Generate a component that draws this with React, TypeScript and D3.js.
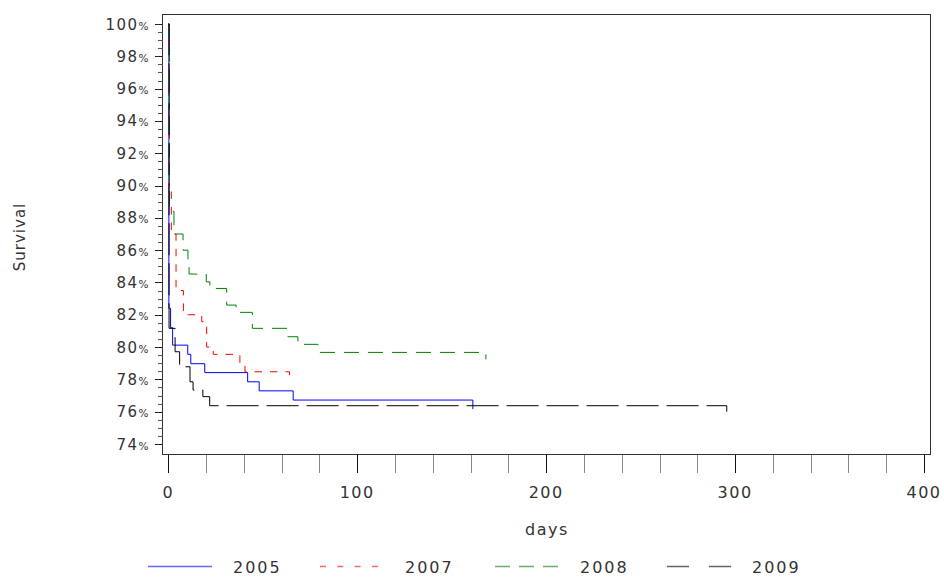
import React from "react";
import * as d3 from "d3";

// Kaplan-Meier style survival (days, percent surviving)
const days2005 = [0, 0.3, 1.2, 2.3, 10.3, 11.9, 19.3, 42, 48.1, 66.1, 161.2];
const surv2005 = [100, 82.4, 81.2, 80.12, 79.55, 78.97, 78.42, 77.85, 77.29, 76.72, 76.16];

const days2007 = [0, 0.6, 1.6, 4.1, 8.0, 17.7, 20.3, 23.8, 37.9, 40.6, 64.2];
const surv2007 = [100, 90.0, 87.0, 83.5, 82.0, 81.57, 80.0, 79.55, 78.99, 78.47, 78.15];

const days2008 = [0, 0.6, 3.0, 7.8, 10.4, 11.0, 20.1, 22.0, 30.9, 35.9, 44.5, 62.8, 68.6, 79.2, 168.1];
const surv2008 = [100, 88.4, 87.0, 86.0, 85.0, 84.52, 84.04, 83.63, 82.6, 82.15, 81.16, 80.64, 80.17, 79.67, 79.24];

const days2009 = [0, 0.4, 3.6, 6.0, 11.5, 13.1, 18.3, 21.9, 295.6];
const surv2009 = [100, 81.16, 79.71, 78.78, 77.85, 77.34, 76.93, 76.37, 76.0];

const years = ["2005", "2007", "2008", "2009"];
const xTickLabels = [0, 100, 200, 300, 400];
const yTickLabels = [74, 76, 78, 80, 82, 84, 86, 88, 90, 92, 94, 96, 98, 100];

const W = 944;
const H = 579;
const font = "DejaVu Sans";
const textColor = "#333";

const App = () => {
  const x = d3.scaleLinear().domain([0, 400]).range([168.3, 924]);
  const y = d3.scaleLinear().domain([74, 100]).range([444, 24]);

  const frame = { left: 162.5, top: 14.5, right: 930.5, bottom: 454.5 };

  const zip = (ds: number[], ss: number[]) => ds.map((d, i) => [d, ss[i]] as [number, number]);
  const series = [
    { name: years[0], pts: zip(days2005, surv2005), color: "#0000ff", dash: "none", legendDash: "none" },
    { name: years[1], pts: zip(days2007, surv2007), color: "#ff0000", dash: "7.5,8", legendDash: "6,11.3" },
    { name: years[2], pts: zip(days2008, surv2008), color: "#008000", dash: "15,9", legendDash: "15,9" },
    { name: years[3], pts: zip(days2009, surv2009), color: "#000000", dash: "32,8", legendDash: "22,20" },
  ];

  const line = d3
    .line<[number, number]>()
    .x((d) => x(d[0]))
    .y((d) => y(d[1]))
    .curve(d3.curveStepAfter);

  const xMinor = d3.range(0, 401, 20).filter((v) => v % 100 !== 0);
  const yMinor = d3.range(74, 100.01, 0.5).filter((v) => v % 2 !== 0);

  // legend layout
  const legendY = 566;
  const legendStarts = [148, 320, 495, 667];
  const legendLen = 64;

  return (
    <svg width={W} height={H} style={{ position: "absolute", left: 0, top: 0, background: "#fff" }}>
      {/* plot frame */}
      <rect
        x={frame.left}
        y={frame.top}
        width={frame.right - frame.left}
        height={frame.bottom - frame.top}
        fill="none"
        stroke="#333"
        strokeWidth={1}
      />

      {/* y axis */}
      {yTickLabels.map((v) => (
        <g key={"y" + v}>
          <line x1={155} x2={frame.left} y1={Math.round(y(v)) + 0.5} y2={Math.round(y(v)) + 0.5} stroke="#222" />
          <text x={150} y={y(v) + 5.5} textAnchor="end" fontFamily={font} fontSize={15} letterSpacing={1.5} fill={textColor}>
            {v}
            <tspan fontSize={10.5}>%</tspan>
          </text>
        </g>
      ))}
      {yMinor.map((v) => (
        <line key={"ym" + v} x1={158} x2={frame.left} y1={Math.round(y(v)) + 0.5} y2={Math.round(y(v)) + 0.5} stroke="#555" />
      ))}

      {/* x axis */}
      {xTickLabels.map((v) => (
        <g key={"x" + v}>
          <line x1={Math.round(x(v)) + 0.5} x2={Math.round(x(v)) + 0.5} y1={455} y2={473} stroke="#111" />
          <text x={x(v)} y={498} textAnchor="middle" fontFamily={font} fontSize={16} letterSpacing={1.5} fill={textColor}>
            {v}
          </text>
        </g>
      ))}
      {xMinor.map((v) => (
        <line key={"xm" + v} x1={Math.round(x(v)) + 0.5} x2={Math.round(x(v)) + 0.5} y1={455} y2={473} stroke="#888" />
      ))}

      {/* axis titles */}
      <text x={547} y={535} textAnchor="middle" fontFamily={font} fontSize={16} letterSpacing={1.5} fill={textColor}>
        days
      </text>
      <text
        transform="translate(25,237) rotate(-90)"
        textAnchor="middle"
        fontFamily={font}
        fontSize={15}
        letterSpacing={1}
        fill={textColor}
      >
        Survival
      </text>

      {/* survival curves */}
      {series.map((s) => (
        <path
          key={s.name}
          d={line(s.pts) || ""}
          fill="none"
          stroke={s.color}
          strokeWidth={1}
          strokeDasharray={s.dash}
        />
      ))}

      {/* legend */}
      {series.map((s, i) => (
        <g key={"lg" + s.name}>
          <line
            x1={legendStarts[i]}
            x2={legendStarts[i] + legendLen}
            y1={legendY + 0.5}
            y2={legendY + 0.5}
            stroke={s.color}
            strokeOpacity={0.6}
            strokeWidth={1.5}
            strokeDasharray={s.legendDash}
          />
          <text
            x={legendStarts[i] + legendLen + 21}
            y={573}
            fontFamily={font}
            fontSize={16}
            letterSpacing={2}
            fill={textColor}
          >
            {s.name}
          </text>
        </g>
      ))}
    </svg>
  );
};

export default App;
